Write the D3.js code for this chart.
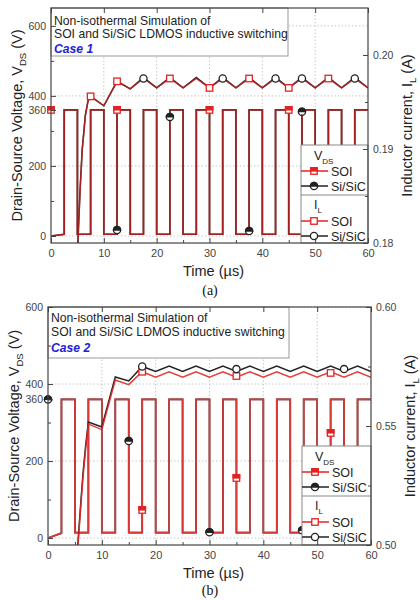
<!DOCTYPE html>
<html>
<head>
<meta charset="utf-8">
<script src="https://cdn.jsdelivr.net/npm/d3@7"></script>
<style>
  body { margin: 0; background: #fff; }
  svg { display: block; font-family: "Liberation Sans", Arial, sans-serif; }
</style>
</head>
<body>
<div id="chart"></div>
<script>
// Non-isothermal simulation of SOI vs Si/SiC LDMOS inductive switching (two panels)

// ---- DATA ----

const timeTicks = [0, 10, 20, 30, 40, 50, 60];
const timeMinor = [5, 15, 25, 35, 45, 55];
const vdsTicks = [0, 200, 360, 400, 600];
const vdsMinor = [100, 300, 500];
const vdsGrid = [0, 200, 400, 600];
const ilTicksA = [0.18, 0.19, 0.20];
const ilMinorA = [0.185, 0.195];
const ilTicksB = [0.50, 0.55, 0.60];
const ilMinorB = [0.525, 0.575];

// switching waveform (time in us)
const swTime = [0, 2.5, 2.5, 5, 5, 7.5, 7.5, 10, 10, 12.5, 12.5, 15, 15, 17.5, 17.5, 20, 20, 22.5, 22.5, 25,
  25, 27.5, 27.5, 30, 30, 32.5, 32.5, 35, 35, 37.5, 37.5, 40, 40, 42.5, 42.5, 45, 45, 47.5, 47.5, 50,
  50, 52.5, 52.5, 55, 55, 57.5, 57.5, 60];

// case 1 drain-source voltage (V)
const vdsSoiA = [0, 5, 360, 360, 5, 5, 360, 360, 5, 5, 360, 360, 5, 5, 360, 360, 5, 5, 360, 360,
  5, 5, 360, 360, 5, 5, 360, 360, 5, 5, 360, 360, 5, 5, 360, 360, 5, 5, 360, 360,
  5, 5, 360, 360, 5, 5, 360, 360];
const vdsSicA = [0, 5, 360, 360, 5, 5, 360, 360, 5, 5, 360, 360, 5, 5, 360, 360, 5, 5, 360, 360,
  5, 5, 360, 360, 5, 5, 360, 360, 5, 5, 360, 360, 5, 5, 360, 360, 5, 5, 360, 360,
  5, 5, 360, 360, 5, 5, 360, 360];

// case 2 drain-source voltage (V)
const vdsSoiB = [0, 13, 360, 360, 14, 14, 360, 360, 14, 14, 360, 360, 14, 14, 360, 360, 14, 14, 360, 360,
  14, 14, 360, 360, 14, 14, 360, 360, 14, 14, 360, 360, 14, 14, 360, 360, 14, 14, 360, 360,
  14, 14, 360, 360, 14, 14, 360, 360];
const vdsSicB = [0, 13, 360, 360, 14, 14, 360, 360, 14, 14, 360, 360, 14, 14, 360, 360, 14, 14, 360, 360,
  14, 14, 360, 360, 14, 14, 360, 360, 14, 14, 360, 360, 14, 14, 360, 360, 14, 14, 360, 360,
  14, 14, 360, 360, 14, 14, 360, 360];

// case 1 inductor current (A)
const ilTimeA = [5.0, 5.5, 5.9, 6.5, 7.0, 7.5, 10, 12.5, 15, 17.5, 20, 22.5, 25, 27.5, 30, 32.5, 35,
  37.5, 40, 42.5, 45, 47.5, 50, 52.5, 55, 57.5, 60];
const ilSoiA = [0.1790, 0.1855, 0.1898, 0.1935, 0.1951, 0.1956, 0.1946, 0.1972, 0.1964, 0.1975, 0.1965,
  0.1975, 0.1965, 0.1975, 0.1965, 0.1975, 0.1965, 0.1975, 0.1965, 0.1975, 0.1965, 0.1975, 0.1965,
  0.1975, 0.1965, 0.1975, 0.1965];
const ilSicA = [0.1790, 0.1856, 0.1899, 0.1936, 0.1951, 0.1956, 0.1946, 0.1972, 0.1964, 0.1976, 0.1965,
  0.1976, 0.1965, 0.1976, 0.1965, 0.1976, 0.1965, 0.1976, 0.1965, 0.1976, 0.1965, 0.1976, 0.1965,
  0.1976, 0.1965, 0.1976, 0.1965];

// case 2 inductor current (A)
const ilTimeB = [5.5, 6.0, 6.5, 7.0, 7.5, 10, 12.5, 15, 17.5, 20, 22.5, 25, 27.5, 30, 32.5, 35, 37.5,
  40, 42.5, 45, 47.5, 50, 52.5, 55, 57.5, 60];
const ilSoiB = [0.4975, 0.5135, 0.5285, 0.5405, 0.5508, 0.5485, 0.5693, 0.5674, 0.5728, 0.5705, 0.5728,
  0.5705, 0.5728, 0.5705, 0.5728, 0.5705, 0.5728, 0.5705, 0.5728, 0.5705, 0.5728, 0.5705, 0.5728,
  0.5705, 0.5728, 0.5705];
const ilSicB = [0.4990, 0.5150, 0.5300, 0.5420, 0.5517, 0.5496, 0.5706, 0.5689, 0.5750, 0.5729, 0.5752,
  0.5729, 0.5752, 0.5729, 0.5752, 0.5729, 0.5752, 0.5729, 0.5752, 0.5729, 0.5752, 0.5729, 0.5752,
  0.5729, 0.5752, 0.5729];

// symbols (as placed on the original plot)
const vdsSoiMarkTA = [0, 12.5, 30, 45];
const vdsSoiMarkVA = [360, 360, 360, 360];
const vdsSicMarkTA = [12.5, 22.5, 37.5, 47.5];
const vdsSicMarkVA = [17, 340, 14, 355];
const ilSoiMarkTA = [7.5, 12.5, 22.5, 30, 37.5, 45, 52.5];
const ilSoiMarkVA = [0.1956, 0.1972, 0.1975, 0.1965, 0.1975, 0.1965, 0.1975];
const ilSicMarkTA = [17.5, 32.5, 42.5, 47.5, 57.5];
const ilSicMarkVA = [0.1975, 0.1975, 0.1975, 0.1975, 0.1975];

const vdsSoiMarkTB = [17.5, 35, 52.5];
const vdsSoiMarkVB = [73, 156, 273];
const vdsSicMarkTB = [0, 15, 30, 47.2];
const vdsSicMarkVB = [360, 252, 15, 20];
const ilSoiMarkTB = [17.5, 35, 52.5];
const ilSoiMarkVB = [0.5728, 0.5710, 0.5723];
const ilSicMarkTB = [17.5, 35, 55];
const ilSicMarkVB = [0.5750, 0.5739, 0.5739];

// ---- SETUP ----

const width = 420, height = 600;
const RED = "#e42222", BLACK = "#222";

const svg = d3.select("#chart")
  .append("svg")
  .attr("width", width)
  .attr("height", height);

const panels = [
  {
    id: "a", left: 51, right: 368, top: 8, bottom: 243,
    vDomain: [-20, 651], iDomain: [0.18, 0.205], iTicks: ilTicksA, iMinor: ilMinorA,
    vSoi: vdsSoiA, vSic: vdsSicA, iTime: ilTimeA, iSoi: ilSoiA, iSic: ilSicA,
    vSoiMark: d3.zip(vdsSoiMarkTA, vdsSoiMarkVA), vSicMark: d3.zip(vdsSicMarkTA, vdsSicMarkVA),
    iSoiMark: d3.zip(ilSoiMarkTA, ilSoiMarkVA), iSicMark: d3.zip(ilSicMarkTA, ilSicMarkVA),
    soiLine: "#c42020", soiOpacity: 0.8, waveLine: "#c42020", waveOpacity: 0.8,
    caseText: "Case 1", caption: "(a)",
    boxW: 237, boxH: 48, textY: [25, 38, 53],
    legX: 301, legY: 145, xLabelY: 257, titleY: 276, captionY: 295
  },
  {
    id: "b", left: 48, right: 371, top: 307, bottom: 545,
    vDomain: [-18, 600], iDomain: [0.50, 0.60], iTicks: ilTicksB, iMinor: ilMinorB,
    vSoi: vdsSoiB, vSic: vdsSicB, iTime: ilTimeB, iSoi: ilSoiB, iSic: ilSicB,
    vSoiMark: d3.zip(vdsSoiMarkTB, vdsSoiMarkVB), vSicMark: d3.zip(vdsSicMarkTB, vdsSicMarkVB),
    iSoiMark: d3.zip(ilSoiMarkTB, ilSoiMarkVB), iSicMark: d3.zip(ilSicMarkTB, ilSicMarkVB),
    soiLine: "#e02828", soiOpacity: 0.9, waveLine: "#d83a3a", waveOpacity: 1,
    caseText: "Case 2", caption: "(b)",
    boxW: 241, boxH: 51, textY: [322, 336, 352],
    legX: 302, legY: 446, xLabelY: 560, titleY: 578, captionY: 595
  }
];

// half-filled / open symbols
function square(g, cx, cy, color, half) {
  const s = 6.5;
  g.append("rect").attr("x", cx - s / 2).attr("y", cy - s / 2).attr("width", s).attr("height", s)
    .attr("fill", "#fff").attr("stroke", color).attr("stroke-width", 1.3);
  if (half) {
    g.append("rect").attr("x", cx - s / 2).attr("y", cy - s / 2).attr("width", s).attr("height", s / 2)
      .attr("fill", color).attr("stroke", color).attr("stroke-width", 1.3);
  }
}
function circle(g, cx, cy, color, half) {
  const r = 3.6;
  g.append("circle").attr("cx", cx).attr("cy", cy).attr("r", r)
    .attr("fill", "#fff").attr("stroke", color).attr("stroke-width", 1.3);
  if (half) {
    g.append("path").attr("d", `M${cx - r},${cy} A${r},${r} 0 0 1 ${cx + r},${cy} Z`)
      .attr("fill", color).attr("stroke", color).attr("stroke-width", 1.3);
  }
}

function styleAxis(g, size) {
  g.select(".domain").remove();
  g.selectAll(".tick line").attr("stroke", "#444");
  g.selectAll(".tick text").attr("fill", "#444").attr("font-size", size)
    .attr("font-family", "Liberation Sans, Arial, sans-serif");
}

// ---- DRAW ----

panels.forEach(p => {
  const g = svg.append("g");

  const x = d3.scaleLinear().domain([0, 60]).range([p.left, p.right]);
  const yV = d3.scaleLinear().domain(p.vDomain).range([p.bottom, p.top]);
  const yI = d3.scaleLinear().domain(p.iDomain).range([p.bottom, p.top]);

  // dotted grid
  g.append("g").selectAll("line").data(timeTicks.slice(1, -1)).join("line")
    .attr("x1", d => x(d)).attr("x2", d => x(d)).attr("y1", p.top).attr("y2", p.bottom)
    .attr("stroke", "#bbb").attr("stroke-width", 0.8).attr("stroke-dasharray", "1.5,2");
  g.append("g").selectAll("line").data(vdsGrid).join("line")
    .attr("x1", p.left).attr("x2", p.right).attr("y1", d => yV(d)).attr("y2", d => yV(d))
    .attr("stroke", "#bbb").attr("stroke-width", 0.8).attr("stroke-dasharray", "1.5,2");

  g.append("clipPath").attr("id", "clip-" + p.id)
    .append("rect").attr("x", p.left).attr("y", p.top)
    .attr("width", p.right - p.left).attr("height", p.bottom - p.top);

  const plot = g.append("g").attr("clip-path", `url(#clip-${p.id})`);

  const vLine = d3.line().x(d => x(d[0])).y(d => yV(d[1]));
  const iLine = d3.line().x(d => x(d[0])).y(d => yI(d[1]));

  // drain-source voltage square waves
  plot.append("path").datum(d3.zip(swTime, p.vSic)).attr("d", vLine)
    .attr("fill", "none").attr("stroke", BLACK).attr("stroke-width", 1.7);
  plot.append("path").datum(d3.zip(swTime, p.vSoi)).attr("d", vLine)
    .attr("fill", "none").attr("stroke", p.waveLine).attr("stroke-opacity", p.waveOpacity).attr("stroke-width", 1.7);

  // inductor current
  plot.append("path").datum(d3.zip(p.iTime, p.iSic)).attr("d", iLine)
    .attr("fill", "none").attr("stroke", BLACK).attr("stroke-width", 1.5);
  plot.append("path").datum(d3.zip(p.iTime, p.iSoi)).attr("d", iLine)
    .attr("fill", "none").attr("stroke", p.soiLine).attr("stroke-opacity", p.soiOpacity).attr("stroke-width", 1.5);

  // symbols
  const marks = g.append("g");
  p.iSoiMark.forEach(d => square(marks, x(d[0]), yI(d[1]), RED, false));
  p.iSicMark.forEach(d => circle(marks, x(d[0]), yI(d[1]), BLACK, false));
  p.vSoiMark.forEach(d => square(marks, x(d[0]), yV(d[1]), RED, true));
  p.vSicMark.forEach(d => circle(marks, x(d[0]), yV(d[1]), BLACK, true));

  // title box
  g.append("rect").attr("x", p.left).attr("y", p.top).attr("width", p.boxW).attr("height", p.boxH)
    .attr("fill", "#fff").attr("stroke", "#999").attr("stroke-width", 1);
  const tl = ["Non-isothermal Simulation of", "SOI and Si/SiC LDMOS inductive switching"];
  tl.forEach((t, i) => {
    g.append("text").attr("x", p.left + 3).attr("y", p.textY[i])
      .attr("font-size", 12.2).attr("fill", "#222").text(t);
  });
  g.append("text").attr("x", p.left + 3).attr("y", p.textY[2])
    .attr("font-size", 12.2).attr("font-weight", "bold").attr("font-style", "italic")
    .attr("fill", "#1f22d8").text(p.caseText);

  // legend
  const lg = g.append("g").attr("transform", `translate(${p.legX},${p.legY})`);
  const lw = p.right - p.legX, lh = p.bottom - p.legY;
  lg.append("rect").attr("width", lw).attr("height", lh)
    .attr("fill", "#fff").attr("stroke", "#888").attr("stroke-width", 1);
  lg.append("line").attr("x1", 0).attr("x2", lw).attr("y1", 50).attr("y2", 50)
    .attr("stroke", "#888").attr("stroke-width", 1);

  const hdr = (y, main, sub) => {
    const t = lg.append("text").attr("x", 13).attr("y", y).attr("font-size", 12.5).attr("fill", "#222");
    t.append("tspan").text(main);
    t.append("tspan").attr("dy", 4).attr("font-size", 8).text(sub);
  };
  hdr(15, "V", "DS");
  hdr(64, "I", "L");

  const row = (y, color, sym, half, label) => {
    lg.append("line").attr("x1", 0).attr("x2", 27).attr("y1", y).attr("y2", y)
      .attr("stroke", color).attr("stroke-width", 1.5);
    sym(lg, 13, y, color, half);
    lg.append("text").attr("x", 30).attr("y", y + 4.5).attr("font-size", 12.5).attr("fill", "#222").text(label);
  };
  row(26, RED, square, true, "SOI");
  row(41, BLACK, circle, true, "Si/SiC");
  row(76, RED, square, false, "SOI");
  row(91, BLACK, circle, false, "Si/SiC");

  // axes (ticks inward)
  g.append("g").attr("transform", `translate(${p.left},0)`)
    .call(d3.axisLeft(yV).tickValues(vdsTicks).tickSize(-5).tickPadding(5))
    .call(a => styleAxis(a, 10.5));
  g.append("g").attr("transform", `translate(${p.left},0)`)
    .call(d3.axisLeft(yV).tickValues(vdsMinor).tickSize(-3).tickFormat(""))
    .call(a => styleAxis(a, 10.5));
  g.append("g").attr("transform", `translate(${p.right},0)`)
    .call(d3.axisRight(yI).tickValues(p.iTicks).tickSize(-5).tickPadding(5).tickFormat(d3.format(".2f")))
    .call(a => styleAxis(a, 10.5));
  g.append("g").attr("transform", `translate(${p.right},0)`)
    .call(d3.axisRight(yI).tickValues(p.iMinor).tickSize(-3).tickFormat(""))
    .call(a => styleAxis(a, 10.5));
  g.append("g").attr("transform", `translate(0,${p.bottom})`)
    .call(d3.axisBottom(x).tickValues(timeTicks).tickSize(-5).tickPadding(6))
    .call(a => styleAxis(a, 11));
  g.append("g").attr("transform", `translate(0,${p.bottom})`)
    .call(d3.axisBottom(x).tickValues(timeMinor).tickSize(-3).tickFormat(""))
    .call(a => styleAxis(a, 11));
  g.append("g").attr("transform", `translate(0,${p.top})`)
    .call(d3.axisTop(x).tickValues(timeTicks).tickSize(-5).tickFormat(""))
    .call(a => styleAxis(a, 11));

  // frame
  g.append("rect").attr("x", p.left).attr("y", p.top)
    .attr("width", p.right - p.left).attr("height", p.bottom - p.top)
    .attr("fill", "none").attr("stroke", "#444").attr("stroke-width", 1.2);

  // axis titles
  const midY = (p.top + p.bottom) / 2;
  const lt = g.append("text").attr("transform", `translate(${p.left - 29},${midY}) rotate(-90)`)
    .attr("text-anchor", "middle").attr("font-size", 14.5).attr("fill", "#222");
  lt.append("tspan").text("Drain-Source Voltage, V");
  lt.append("tspan").attr("dy", 4).attr("font-size", 9.5).text("DS");
  lt.append("tspan").attr("dy", -4).text(" (V)");

  const rt = g.append("text").attr("transform", `translate(${p.right + 44},${midY}) rotate(-90)`)
    .attr("text-anchor", "middle").attr("font-size", 14.5).attr("fill", "#222");
  rt.append("tspan").text("Inductor current, I");
  rt.append("tspan").attr("dy", 4).attr("font-size", 9.5).text("L");
  rt.append("tspan").attr("dy", -4).text(" (A)");

  g.append("text").attr("x", (p.left + p.right) / 2 + 4).attr("y", p.titleY)
    .attr("text-anchor", "middle").attr("font-size", 14.5).attr("fill", "#222").text("Time (\u00b5s)");

  g.append("text").attr("x", 210).attr("y", p.captionY)
    .attr("text-anchor", "middle").attr("font-size", 14)
    .attr("font-family", "Liberation Serif, Times New Roman, serif").attr("fill", "#111").text(p.caption);
});
</script>
</body>
</html>
